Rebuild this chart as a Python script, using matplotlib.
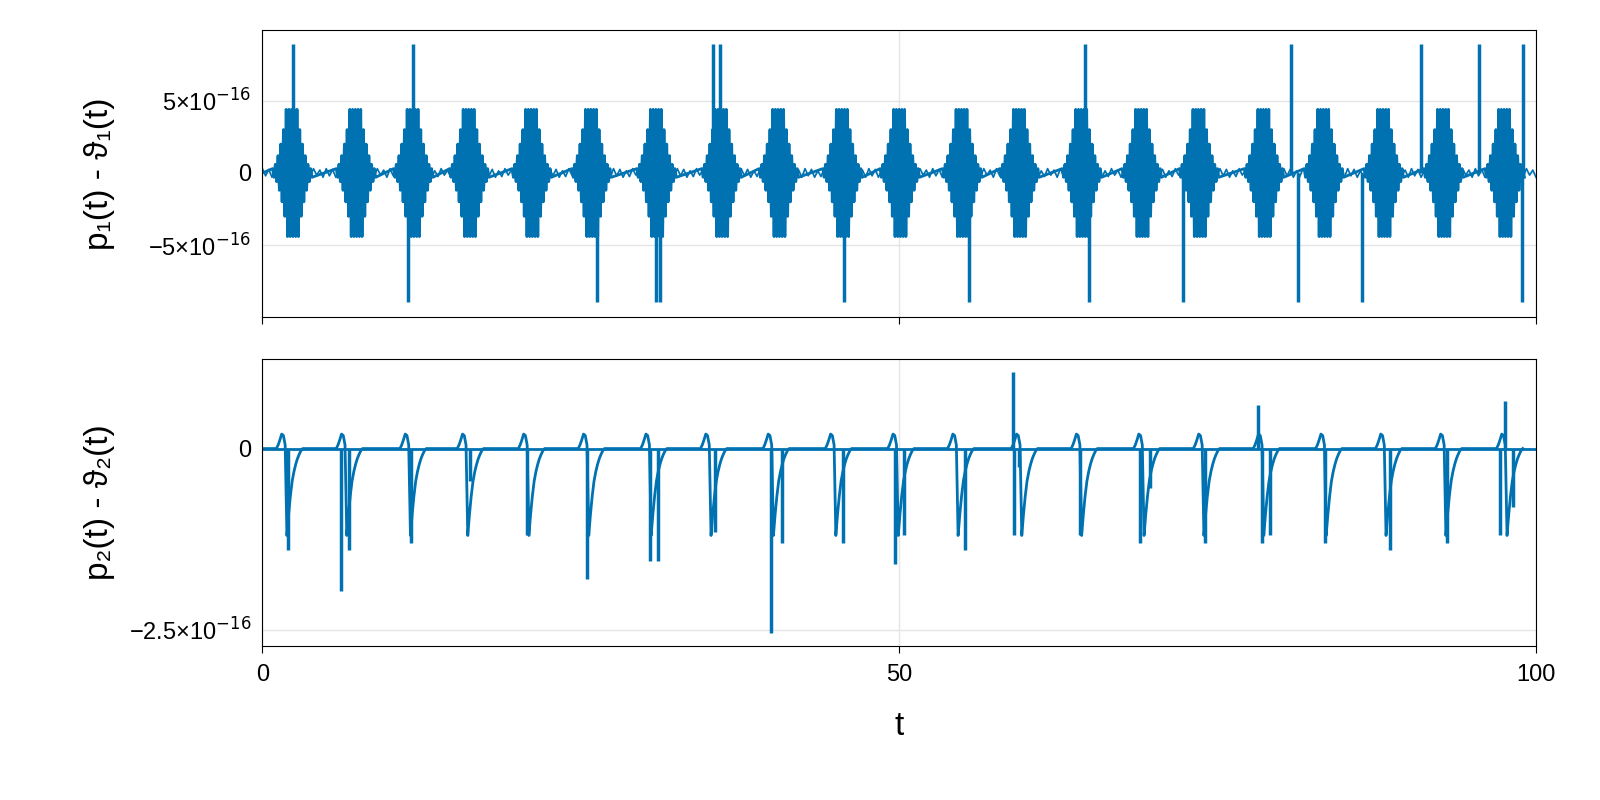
import numpy as np
import matplotlib
matplotlib.use("Agg")
import matplotlib.pyplot as plt

plt.rcParams['font.family'] = ['Liberation Sans', 'DejaVu Sans']
BLUE = "#0072b2"
SC = 1e-16

# Top panel: burst centres (t), burst envelope (units of 1e-16), spikes
top_bursts = [2.4, 7.4, 11.9, 16.3, 21.2, 25.9, 31.0, 36.1, 40.6, 45.6, 50.1, 55.0, 59.5, 64.4, 69.1, 73.6, 78.7, 83.4, 88.1, 92.8, 97.6]
top_env = [0.3, 0.6, 1.2, 2.0, 3.0, 4.4, 4.4, 4.4, 4.4, 4.4, 3.0, 2.0, 1.2, 0.6, 0.3]
top_quiet = [0.3, -0.2, 0.25, -0.3, 0.15, -0.25, 0.3, -0.15, 0.2, -0.3]
top_spike_t = [2.4, 11.8, 35.4, 35.9, 64.6, 80.8, 91.0, 95.5, 99.0,
               11.4, 26.3, 30.9, 31.2, 45.7, 55.5, 64.9, 72.3, 81.3, 86.3, 98.9]
top_spike_v = [8.9, 8.9, 8.9, 8.9, 8.9, 8.9, 8.9, 8.9, 8.9,
               -8.9, -8.9, -8.9, -8.9, -8.9, -8.9, -8.9, -8.9, -8.9, -8.9, -8.9]

# Bottom panel
bot_bursts = [2.2, 6.9, 11.9, 16.4, 21.2, 25.9, 30.8, 35.5, 40.4, 45.3, 50.2, 54.9, 59.9, 64.6, 69.5, 74.2, 78.9, 83.8, 88.5, 93.2, 98.0]
bot_shape = [0.0, 0.05, 0.12, 0.2, 0.18, 0.05, -1.2, -0.9, -0.65, -0.45, -0.32, -0.22, -0.14, -0.08, -0.03, 0.0]
bot_spike_t = [1.9, 2.0, 6.2, 6.8, 11.7, 16.3, 20.8, 25.5, 30.4, 31.1, 35.5, 39.9, 40.8, 45.6, 49.7, 50.4, 55.2, 59.0, 59.4, 64.2, 68.9, 69.7, 74.0, 78.5, 79.1, 83.4, 88.5, 93.0, 97.2, 98.2, 58.9, 78.2, 97.6]
bot_spike_v = [-0.45, -1.4, -1.97, -1.4, -1.3, -0.45, -1.2, -1.8, -1.55, -1.55, -1.15, -2.55, -1.3, -1.3, -1.6, -1.2, -1.4, -1.2, -0.25, -1.2, -1.3, -0.55, -1.3, -1.3, -1.2, -1.3, -1.4, -1.3, -1.2, -0.8, 1.05, 0.6, 0.65]

def build(centres, shape, quiet, width):
    ts, vs = [0.0], [0.0]
    for c in centres:
        n = len(shape)
        for i, e in enumerate(shape):
            t0 = c - width / 2 + width * i / n
            if quiet is None:
                ts += [t0]; vs += [e]
            else:
                ts += [t0, t0 + width / n / 2]; vs += [e, -e]
    return np.array(ts), np.array(vs) * SC

fig, (a1, a2) = plt.subplots(2, 1, figsize=(16, 8), dpi=100, sharex=True)
fig.subplots_adjust(left=0.164, right=0.96, top=0.962, bottom=0.193, hspace=0.15)

qt = np.linspace(0, 100, 400)
qv = np.array([top_quiet[i % len(top_quiet)] for i in range(len(qt))]) * SC
a1.plot(qt, qv, color=BLUE, lw=1.2)
tt, tv = build(top_bursts, top_env, top_quiet, 3.2)
a1.plot(tt, tv, color=BLUE, lw=2)
a1.vlines(top_spike_t, 0, np.array(top_spike_v) * SC, color=BLUE, lw=2.5)
a1.set_ylim(-9.93e-16, 9.86e-16)
a1.set_yticks([-5e-16, 0, 5e-16])
a1.set_yticklabels(["−5×10$^{−16}$", "0", "5×10$^{−16}$"])

a2.plot([0, 100], [0, 0], color=BLUE, lw=2)
bt, bv = build(bot_bursts, bot_shape, None, 2.2)
a2.plot(bt, bv, color=BLUE, lw=2)
a2.vlines(bot_spike_t, 0, np.array(bot_spike_v) * SC, color=BLUE, lw=2.5)
a2.set_ylim(-2.72e-16, 1.23e-16)
a2.set_yticks([-2.5e-16, 0])
a2.set_yticklabels(["−2.5×10$^{−16}$", "0"])

for a in (a1, a2):
    a.set_xlim(0, 100)
    a.set_xticks([0, 50, 100])
    a.grid(True, color="#e5e5e5", lw=1)
    a.set_axisbelow(True)
    a.tick_params(axis='y', length=0, labelsize=17, pad=8)
    a.tick_params(axis='x', labelsize=17, length=5, pad=8)
a2.set_xticklabels(["0", "50", "100"])
a1.set_ylabel("p₁(t) - ϑ₁(t)", fontsize=24, labelpad=10)
a2.set_ylabel("p₂(t) - ϑ₂(t)", fontsize=24, labelpad=10)
a2.set_xlabel("t", fontsize=24, labelpad=18)
fig.align_ylabels([a1, a2])
fig.savefig("out.png")
